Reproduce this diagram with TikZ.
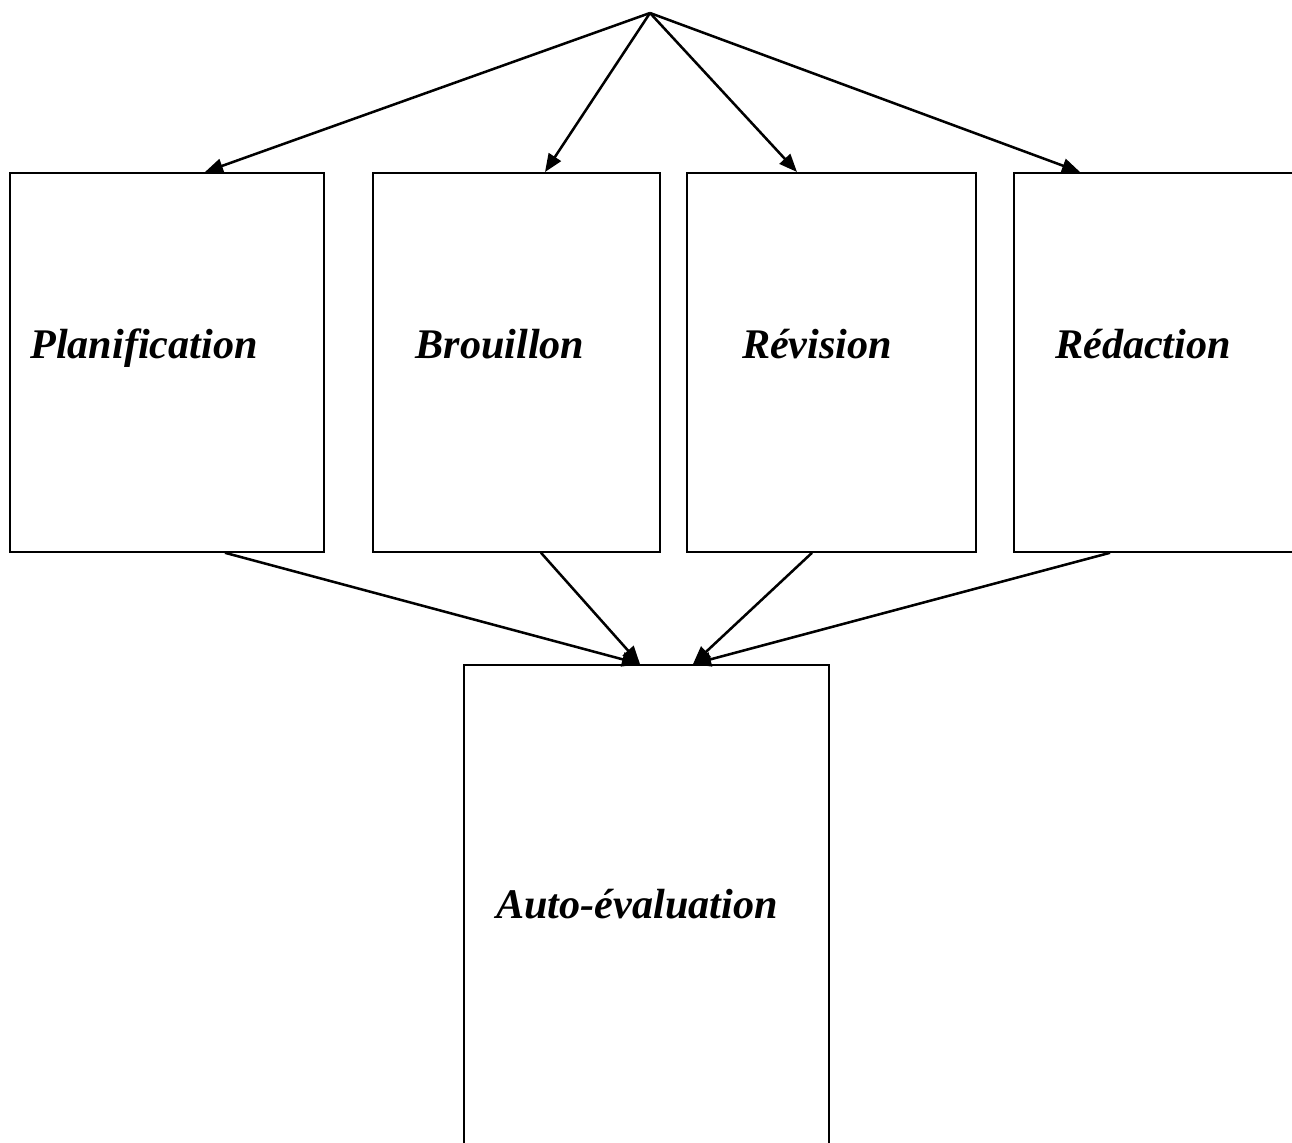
\documentclass[tikz,border=0pt]{standalone}
\usepackage{fontspec}
\setmainfont{Liberation Serif}
\usetikzlibrary{arrows.meta,calc}
\def\StepFont{\fontsize{30}{36}\selectfont\bfseries\itshape}
\tikzset{
    stagebox/.style={draw,line width=1.2pt,inner sep=0pt,anchor=north west},
    stagelabel/.style={font=\StepFont,anchor=base},
    flowarrow/.style={line width=1.8pt,-{Triangle[length=0.45cm,width=0.36cm]}}
}

\begin{document}
\begin{tikzpicture}[x=0.025cm,y=-0.025cm]

% Page area (pixel grid of the reference)
\useasboundingbox (0,0) rectangle (1292,1142);
\clip (0,0) rectangle (1292,1142);
\fill[white] (0,0) rectangle (1292,1142);

% =====================================================
% STAGE BOXES
% =====================================================
\node[stagebox,minimum width=7.85cm,minimum height=9.475cm] (plan) at (9,172) {};
\node[stagebox,minimum width=7.175cm,minimum height=9.475cm] (brouil) at (372,172) {};
\node[stagebox,minimum width=7.225cm,minimum height=9.475cm] (revis) at (686,172) {};
\node[stagebox,minimum width=7.5cm,minimum height=9.475cm] (redac) at (1013,172) {};

\node[stagebox,minimum width=9.125cm,minimum height=12.5cm] (auto) at (463,664) {};

% Labels
\node[stagelabel] (planlbl) at (144,358) {Planification};
\node[stagelabel] (brouillbl) at (500,358) {Brouillon};
\node[stagelabel] (revislbl) at (817,358) {Révision};
\node[stagelabel] (redaclbl) at (1143,358) {Rédaction};
\node[stagelabel] (autolbl) at (637,918) {Auto-évaluation};

% =====================================================
% ARROWS FROM THE TOP
% =====================================================
\coordinate (apex) at (650,13);

\draw[flowarrow] (apex) -- ($(plan.north west)+(196,0)$);
\draw[flowarrow] (apex) -- ($(brouil.north west)+(173,0)$);
\draw[flowarrow] (apex) -- ($(revis.north west)+(111,0)$);
\draw[flowarrow] (apex) -- ($(redac.north west)+(67,0)$);

% =====================================================
% ARROWS INTO AUTO-EVALUATION
% =====================================================
\draw[flowarrow] ($(plan.south west)+(216,0)$) -- ($(auto.north west)+(177,0)$);
\draw[flowarrow] ($(brouil.south west)+(169,0)$) -- ($(auto.north west)+(177,0)$);
\draw[flowarrow] ($(revis.south west)+(126,0)$) -- ($(auto.north west)+(230,0)$);
\draw[flowarrow] ($(redac.south west)+(97,0)$) -- ($(auto.north west)+(230,0)$);

\end{tikzpicture}
\end{document}
